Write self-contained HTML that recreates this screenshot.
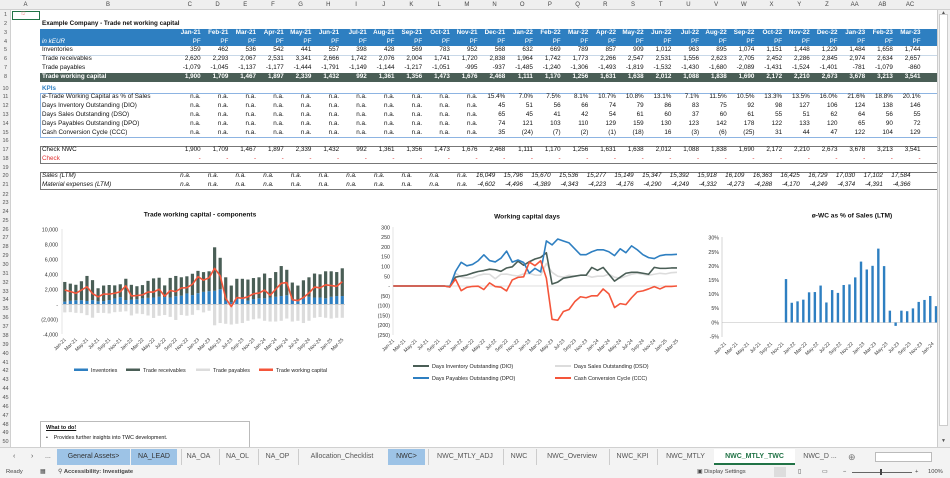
<!DOCTYPE html>
<html><head><meta charset="utf-8">
<style>
*{margin:0;padding:0;box-sizing:border-box}
body{width:950px;height:478px;overflow:hidden;background:#fff;font-family:"Liberation Sans",Arial,sans-serif;position:relative;font-size:6.3px;color:#111}
.a{position:absolute}
.ch{position:absolute;top:0;height:10px;background:#efefef;border-bottom:1px solid #d0d0d0;left:0;width:950px}
.ch span{position:absolute;top:1.5px;font-size:6px;color:#444;text-align:center}
.rh{position:absolute;left:0;width:11px;background:#efefef;border-right:1px solid #d0d0d0;top:10px;height:437px}
.rn{position:absolute;left:0;width:11px;text-align:center;font-size:5.5px;color:#555}
.r{position:absolute;left:176px;display:flex;height:8.8px;line-height:8.8px;white-space:nowrap}
.r span{width:27.7px;flex:none;text-align:right;padding-right:3px}
.lb{position:absolute;left:42px;height:8.8px;line-height:8.8px;white-space:nowrap}
.w{color:#fff;font-weight:bold}
.it{font-style:italic}
.red span{color:#e03030}
</style></head><body>

<div class="ch">
<span style="left:11px;width:29px">A</span><span style="left:40px;width:136px">B</span>
<span style="left:176px;width:27.7px">C</span><span style="left:203.7px;width:27.7px">D</span><span style="left:231.4px;width:27.7px">E</span><span style="left:259.1px;width:27.7px">F</span><span style="left:286.8px;width:27.7px">G</span><span style="left:314.5px;width:27.7px">H</span><span style="left:342.2px;width:27.7px">I</span><span style="left:369.9px;width:27.7px">J</span><span style="left:397.6px;width:27.7px">K</span><span style="left:425.3px;width:27.7px">L</span><span style="left:453px;width:27.7px">M</span><span style="left:480.7px;width:27.7px">N</span><span style="left:508.4px;width:27.7px">O</span><span style="left:536.1px;width:27.7px">P</span><span style="left:563.8px;width:27.7px">Q</span><span style="left:591.5px;width:27.7px">R</span><span style="left:619.2px;width:27.7px">S</span><span style="left:646.9px;width:27.7px">T</span><span style="left:674.6px;width:27.7px">U</span><span style="left:702.3px;width:27.7px">V</span><span style="left:730px;width:27.7px">W</span><span style="left:757.7px;width:27.7px">X</span><span style="left:785.4px;width:27.7px">Y</span><span style="left:813.1px;width:27.7px">Z</span><span style="left:840.8px;width:27.7px">AA</span><span style="left:868.5px;width:27.7px">AB</span><span style="left:896.2px;width:27.7px">AC</span>
</div>
<div class="rh"></div>
<div class="a" style="left:12px;top:10.5px;width:28px;height:9px;border:1.5px solid #217346"></div>
<div class="a" style="left:21px;top:11px;font-size:5px;color:#e88">⛫</div>

<div id="rn"></div>

<!-- bands -->
<div class="a" style="left:40px;top:28.6px;width:897px;height:17.8px;background:#2e7fc1"></div>
<div class="a" style="left:40px;top:73px;width:897px;height:8.8px;background:#4a5e56"></div>
<div class="a" style="left:40px;top:93.2px;width:897px;height:44.4px;border:1px solid #8db4e2;border-right:none"></div>
<div class="a" style="left:40px;top:145.6px;width:897px;height:18px;border:1px solid #777;border-right:none"></div>
<div class="a" style="left:40px;top:172.3px;width:897px;height:18px;border:1px solid #777;border-right:none"></div>
<div class="a" style="left:40px;top:55.3px;width:897px;height:0;border-top:1px solid #c8d8e8"></div>

<div class="lb" style="top:19.6px;font-weight:bold">Example Company - Trade net working capital</div>
<div class="lb w it" style="top:37.6px;font-weight:normal">in kEUR</div>
<div class="lb" style="top:46.3px">Inventories</div>
<div class="lb" style="top:55.3px">Trade receivables</div>
<div class="lb" style="top:63.9px">Trade payables</div>
<div class="lb w" style="top:72.9px">Trade working capital</div>
<div class="lb" style="top:84.9px;color:#2e7fc1;font-weight:bold">KPIs</div>
<div class="lb" style="top:93.3px">ø-Trade Working Capital as % of Sales</div>
<div class="lb" style="top:102.3px">Days Inventory Outstanding (DIO)</div>
<div class="lb" style="top:110.9px">Days Sales Outstanding (DSO)</div>
<div class="lb" style="top:119.9px">Days Payables Outstanding (DPO)</div>
<div class="lb" style="top:128.9px">Cash Conversion Cycle (CCC)</div>
<div class="lb" style="top:145.6px">Check NWC</div>
<div class="lb" style="top:154.6px;color:#e03030">Check</div>
<div class="lb it" style="top:172.3px">Sales (LTM)</div>
<div class="lb it" style="top:181.3px">Material expenses (LTM)</div>

<div class="r w" style="top:28.6px"><span>Jan-21</span><span>Feb-21</span><span>Mar-21</span><span>Apr-21</span><span>May-21</span><span>Jun-21</span><span>Jul-21</span><span>Aug-21</span><span>Sep-21</span><span>Oct-21</span><span>Nov-21</span><span>Dec-21</span><span>Jan-22</span><span>Feb-22</span><span>Mar-22</span><span>Apr-22</span><span>May-22</span><span>Jun-22</span><span>Jul-22</span><span>Aug-22</span><span>Sep-22</span><span>Oct-22</span><span>Nov-22</span><span>Dec-22</span><span>Jan-23</span><span>Feb-23</span><span>Mar-23</span></div>
<div class="r w" style="top:37.6px;font-weight:normal"><span>PF</span><span>PF</span><span>PF</span><span>PF</span><span>PF</span><span>PF</span><span>PF</span><span>PF</span><span>PF</span><span>PF</span><span>PF</span><span>PF</span><span>PF</span><span>PF</span><span>PF</span><span>PF</span><span>PF</span><span>PF</span><span>PF</span><span>PF</span><span>PF</span><span>PF</span><span>PF</span><span>PF</span><span>PF</span><span>PF</span><span>PF</span></div>
<div class="r" style="top:46.3px"><span>359</span><span>462</span><span>536</span><span>542</span><span>441</span><span>557</span><span>398</span><span>428</span><span>569</span><span>783</span><span>952</span><span>568</span><span>632</span><span>669</span><span>789</span><span>857</span><span>909</span><span>1,012</span><span>963</span><span>895</span><span>1,074</span><span>1,151</span><span>1,448</span><span>1,229</span><span>1,484</span><span>1,658</span><span>1,744</span></div>
<div class="r" style="top:55.3px"><span>2,620</span><span>2,293</span><span>2,067</span><span>2,531</span><span>3,341</span><span>2,666</span><span>1,742</span><span>2,076</span><span>2,004</span><span>1,741</span><span>1,720</span><span>2,838</span><span>1,964</span><span>1,742</span><span>1,773</span><span>2,266</span><span>2,547</span><span>2,531</span><span>1,556</span><span>2,623</span><span>2,705</span><span>2,452</span><span>2,286</span><span>2,845</span><span>2,974</span><span>2,634</span><span>2,657</span></div>
<div class="r" style="top:63.9px"><span>-1,079</span><span>-1,045</span><span>-1,137</span><span>-1,177</span><span>-1,444</span><span>-1,791</span><span>-1,149</span><span>-1,144</span><span>-1,217</span><span>-1,051</span><span>-995</span><span>-937</span><span>-1,485</span><span>-1,240</span><span>-1,306</span><span>-1,493</span><span>-1,819</span><span>-1,532</span><span>-1,430</span><span>-1,680</span><span>-2,089</span><span>-1,431</span><span>-1,524</span><span>-1,401</span><span>-781</span><span>-1,079</span><span>-860</span></div>
<div class="r w" style="top:72.9px"><span>1,900</span><span>1,709</span><span>1,467</span><span>1,897</span><span>2,339</span><span>1,432</span><span>992</span><span>1,361</span><span>1,356</span><span>1,473</span><span>1,676</span><span>2,468</span><span>1,111</span><span>1,170</span><span>1,256</span><span>1,631</span><span>1,638</span><span>2,012</span><span>1,088</span><span>1,838</span><span>1,690</span><span>2,172</span><span>2,210</span><span>2,673</span><span>3,678</span><span>3,213</span><span>3,541</span></div>
<div class="r" style="top:93.3px"><span>n.a.</span><span>n.a.</span><span>n.a.</span><span>n.a.</span><span>n.a.</span><span>n.a.</span><span>n.a.</span><span>n.a.</span><span>n.a.</span><span>n.a.</span><span>n.a.</span><span>15.4%</span><span>7.0%</span><span>7.5%</span><span>8.1%</span><span>10.7%</span><span>10.8%</span><span>13.1%</span><span>7.1%</span><span>11.5%</span><span>10.5%</span><span>13.3%</span><span>13.5%</span><span>16.0%</span><span>21.6%</span><span>18.8%</span><span>20.1%</span></div>
<div class="r" style="top:102.3px"><span>n.a.</span><span>n.a.</span><span>n.a.</span><span>n.a.</span><span>n.a.</span><span>n.a.</span><span>n.a.</span><span>n.a.</span><span>n.a.</span><span>n.a.</span><span>n.a.</span><span>45</span><span>51</span><span>56</span><span>66</span><span>74</span><span>79</span><span>86</span><span>83</span><span>75</span><span>92</span><span>98</span><span>127</span><span>106</span><span>124</span><span>138</span><span>146</span></div>
<div class="r" style="top:110.9px"><span>n.a.</span><span>n.a.</span><span>n.a.</span><span>n.a.</span><span>n.a.</span><span>n.a.</span><span>n.a.</span><span>n.a.</span><span>n.a.</span><span>n.a.</span><span>n.a.</span><span>65</span><span>45</span><span>41</span><span>42</span><span>54</span><span>61</span><span>60</span><span>37</span><span>60</span><span>61</span><span>55</span><span>51</span><span>62</span><span>64</span><span>56</span><span>55</span></div>
<div class="r" style="top:119.9px"><span>n.a.</span><span>n.a.</span><span>n.a.</span><span>n.a.</span><span>n.a.</span><span>n.a.</span><span>n.a.</span><span>n.a.</span><span>n.a.</span><span>n.a.</span><span>n.a.</span><span>74</span><span>121</span><span>103</span><span>110</span><span>129</span><span>159</span><span>130</span><span>123</span><span>142</span><span>178</span><span>122</span><span>133</span><span>120</span><span>65</span><span>90</span><span>72</span></div>
<div class="r" style="top:128.9px"><span>n.a.</span><span>n.a.</span><span>n.a.</span><span>n.a.</span><span>n.a.</span><span>n.a.</span><span>n.a.</span><span>n.a.</span><span>n.a.</span><span>n.a.</span><span>n.a.</span><span>35</span><span>(24)</span><span>(7)</span><span>(2)</span><span>(1)</span><span>(18)</span><span>16</span><span>(3)</span><span>(6)</span><span>(25)</span><span>31</span><span>44</span><span>47</span><span>122</span><span>104</span><span>129</span></div>
<div class="r" style="top:145.6px"><span>1,900</span><span>1,709</span><span>1,467</span><span>1,897</span><span>2,339</span><span>1,432</span><span>992</span><span>1,361</span><span>1,356</span><span>1,473</span><span>1,676</span><span>2,468</span><span>1,111</span><span>1,170</span><span>1,256</span><span>1,631</span><span>1,638</span><span>2,012</span><span>1,088</span><span>1,838</span><span>1,690</span><span>2,172</span><span>2,210</span><span>2,673</span><span>3,678</span><span>3,213</span><span>3,541</span></div>
<div class="r red" style="top:154.6px"><span>-</span><span>-</span><span>-</span><span>-</span><span>-</span><span>-</span><span>-</span><span>-</span><span>-</span><span>-</span><span>-</span><span>-</span><span>-</span><span>-</span><span>-</span><span>-</span><span>-</span><span>-</span><span>-</span><span>-</span><span>-</span><span>-</span><span>-</span><span>-</span><span>-</span><span>-</span><span>-</span></div>
<div class="r it" style="top:172.3px;left:166px"><span>n.a.</span><span>n.a.</span><span>n.a.</span><span>n.a.</span><span>n.a.</span><span>n.a.</span><span>n.a.</span><span>n.a.</span><span>n.a.</span><span>n.a.</span><span>n.a.</span><span>16,049</span><span>15,796</span><span>15,670</span><span>15,536</span><span>15,277</span><span>15,149</span><span>15,347</span><span>15,392</span><span>15,918</span><span>16,109</span><span>16,363</span><span>16,425</span><span>16,729</span><span>17,030</span><span>17,102</span><span>17,584</span></div>
<div class="r it" style="top:181.3px;left:166px"><span>n.a.</span><span>n.a.</span><span>n.a.</span><span>n.a.</span><span>n.a.</span><span>n.a.</span><span>n.a.</span><span>n.a.</span><span>n.a.</span><span>n.a.</span><span>n.a.</span><span>-4,602</span><span>-4,496</span><span>-4,389</span><span>-4,343</span><span>-4,223</span><span>-4,176</span><span>-4,290</span><span>-4,249</span><span>-4,332</span><span>-4,273</span><span>-4,288</span><span>-4,170</span><span>-4,249</span><span>-4,374</span><span>-4,391</span><span>-4,366</span></div>

<svg class="a" style="left:0;top:0" width="950" height="478" font-family="Liberation Sans, Arial, sans-serif">
<g id="g1"></g><g id="g2"></g><g id="g3"></g>
<g font-size="6.6" font-weight="bold" text-anchor="middle" fill="#111">
<text x="200" y="216.5">Trade working capital - components</text>
<text x="527" y="218.5">Working capital days</text>
<text x="852" y="217.5">ø-WC as % of Sales (LTM)</text>
</g>
<g font-size="5.3" text-anchor="end" fill="#333">
<text x="58" y="231.3">10,000</text><text x="58" y="246.3">8,000</text><text x="58" y="261.3">6,000</text><text x="58" y="276.3">4,000</text><text x="58" y="291.3">2,000</text><text x="58" y="306.3">-</text><text x="58" y="321.3">(2,000)</text><text x="58" y="336.3">-4,000</text>
<text x="390" y="229.3">300</text><text x="390" y="239.1">250</text><text x="390" y="248.9">200</text><text x="390" y="258.7">150</text><text x="390" y="268.5">100</text><text x="390" y="278.3">50</text><text x="390" y="288">-</text><text x="390" y="297.8">(50)</text><text x="390" y="307.6">(100)</text><text x="390" y="317.4">(150)</text><text x="390" y="327.2">(200)</text><text x="390" y="337">(250)</text>
<text x="719" y="239.7">30%</text><text x="719" y="253.8">25%</text><text x="719" y="267.9">20%</text><text x="719" y="282">15%</text><text x="719" y="296.1">10%</text><text x="719" y="310.2">5%</text><text x="719" y="324.4">0%</text><text x="719" y="338.5">-5%</text>
</g>
<g id="xl" font-size="5" text-anchor="end" fill="#333"></g>
<g font-size="5.4" fill="#222">
<rect x="74" y="368.5" width="14" height="2.5" fill="#2e7fc1"/><text x="91" y="372">Inventories</text>
<rect x="126" y="368.5" width="14" height="2.5" fill="#4a5e56"/><text x="143" y="372">Trade receivables</text>
<rect x="196" y="368.5" width="14" height="2.5" fill="#dcdcdc"/><text x="213" y="372">Trade payables</text>
<rect x="259" y="368.5" width="14" height="2.5" fill="#f4553a"/><text x="276" y="372">Trade working capital</text>
<rect x="413" y="365" width="16" height="2" fill="#4a5e56"/><text x="432" y="368">Days Inventory Outstanding (DIO)</text>
<rect x="555" y="365" width="16" height="2" fill="#dcdcdc"/><text x="574" y="368">Days Sales Outstanding (DSO)</text>
<rect x="413" y="377" width="16" height="2" fill="#2e7fc1"/><text x="432" y="380">Days Payables Outstanding (DPO)</text>
<rect x="555" y="377" width="16" height="2" fill="#f4553a"/><text x="574" y="380">Cash Conversion Cycle (CCC)</text>
</g>
</svg>

<!-- x axis labels static -->
<svg class="a" style="left:0;top:0" width="950" height="478" font-family="Liberation Sans, Arial, sans-serif" font-size="4.9" fill="#333" text-anchor="end">
<g id="lab1"><text>Jan-21</text><text>Mar-21</text><text>May-21</text><text>Jul-21</text><text>Sep-21</text><text>Nov-21</text><text>Jan-22</text><text>Mar-22</text><text>May-22</text><text>Jul-22</text><text>Sep-22</text><text>Nov-22</text><text>Jan-23</text><text>Mar-23</text><text>May-23</text><text>Jul-23</text><text>Sep-23</text><text>Nov-23</text><text>Jan-24</text><text>Mar-24</text><text>May-24</text><text>Jul-24</text><text>Sep-24</text><text>Nov-24</text><text>Jan-25</text><text>Mar-25</text></g>
<g id="lab2"><text>Jan-21</text><text>Mar-21</text><text>May-21</text><text>Jul-21</text><text>Sep-21</text><text>Nov-21</text><text>Jan-22</text><text>Mar-22</text><text>May-22</text><text>Jul-22</text><text>Sep-22</text><text>Nov-22</text><text>Jan-23</text><text>Mar-23</text><text>May-23</text><text>Jul-23</text><text>Sep-23</text><text>Nov-23</text><text>Jan-24</text><text>Mar-24</text><text>May-24</text><text>Jul-24</text><text>Sep-24</text><text>Nov-24</text><text>Jan-25</text><text>Mar-25</text></g>
<g id="lab3"><text>Jan-21</text><text>Mar-21</text><text>May-21</text><text>Jul-21</text><text>Sep-21</text><text>Nov-21</text><text>Jan-22</text><text>Mar-22</text><text>May-22</text><text>Jul-22</text><text>Sep-22</text><text>Nov-22</text><text>Jan-23</text><text>Mar-23</text><text>May-23</text><text>Jul-23</text><text>Sep-23</text><text>Nov-23</text><text>Jan-24</text></g>
</svg>

<!-- text box -->
<div class="a" style="left:40px;top:421px;width:210px;height:27px;border:1px solid #bbb;background:#fff"></div>
<div class="a" style="left:46px;top:425px;font-size:5.5px;text-decoration:underline;font-weight:bold">What to do!</div>
<div class="a" style="left:46px;top:435px;font-size:5.3px">•&nbsp;&nbsp;&nbsp;&nbsp;Provides further insights into TWC development.</div>

<!-- scrollbar -->
<div class="a" style="left:937px;top:10px;width:13px;height:437px;background:#f0f0f0;border-left:1px solid #ccc"></div>
<div class="a" style="left:939px;top:14px;width:9px;height:412px;background:#fff;border:1px solid #ccc"></div>
<div class="a" style="left:941px;top:10px;font-size:5px;color:#555">▲</div>
<div class="a" style="left:941px;top:438px;font-size:5px;color:#555">▼</div>

<!-- tab bar -->
<div class="a" style="left:0;top:447px;width:950px;height:19px;background:#f3f3f3;border-top:1px solid #d0d0d0"></div>
<div class="a" style="left:0;top:449px;height:16px;width:950px;font-size:7px;color:#555;line-height:16px;white-space:nowrap">
<span class="a" style="left:13px">‹</span><span class="a" style="left:31px">›</span><span class="a" style="left:45px">...</span>
<span class="a" style="left:57px;width:73px;background:#9dc3e6;text-align:center;color:#333">General Assets&gt;</span>
<span class="a" style="left:131px;width:46px;background:#9dc3e6;text-align:center;color:#333">NA_LEAD</span>
<span class="a" style="left:181px;width:34px;text-align:center;border-left:1px solid #ccc">NA_OA</span>
<span class="a" style="left:219px;width:36px;text-align:center;border-left:1px solid #ccc">NA_OL</span>
<span class="a" style="left:258px;width:38px;text-align:center;border-left:1px solid #ccc">NA_OP</span>
<span class="a" style="left:298px;width:87px;text-align:center;border-left:1px solid #ccc">Allocation_Checklist</span>
<span class="a" style="left:388px;width:37px;background:#9dc3e6;text-align:center;color:#333">NWC&gt;</span>
<span class="a" style="left:428px;width:73px;text-align:center;border-left:1px solid #ccc">NWC_MTLY_ADJ</span>
<span class="a" style="left:503px;width:31px;text-align:center;border-left:1px solid #ccc">NWC</span>
<span class="a" style="left:536px;width:71px;text-align:center;border-left:1px solid #ccc">NWC_Overview</span>
<span class="a" style="left:609px;width:46px;text-align:center;border-left:1px solid #ccc">NWC_KPI</span>
<span class="a" style="left:657px;width:56px;text-align:center;border-left:1px solid #ccc">NWC_MTLY</span>
<span class="a" style="left:714px;width:81px;text-align:center;background:#fff;color:#217346;font-weight:bold;border-bottom:2px solid #217346;height:16px">NWC_MTLY_TWC</span>
<span class="a" style="left:797px;width:46px;text-align:center">NWC_D ...</span>
<span class="a" style="left:848px;font-size:9px;color:#777">⊕</span>
<span class="a" style="left:875px;top:3px;width:57px;height:10px;background:#fff;border:1px solid #bbb"></span>
</div>
<!-- status bar -->
<div class="a" style="left:0;top:466px;width:950px;height:12px;background:#f3f3f3;font-size:5.8px;color:#444;line-height:12px;white-space:nowrap">
<span class="a" style="left:6px">Ready</span><span class="a" style="left:40px">▦</span><span class="a" style="left:58px">⚲ <b>Accessibility: Investigate</b></span>
<span class="a" style="left:697px">▣ Display Settings</span><span class="a" style="left:774px;width:12px;height:10px;top:1px;background:#ddd"></span>
<span class="a" style="left:798px">▯</span><span class="a" style="left:822px">▭</span>
<span class="a" style="left:843px">−</span><span class="a" style="left:852px;top:6px;width:60px;height:1px;background:#666"></span><span class="a" style="left:880px;top:3px;width:2px;height:6px;background:#444"></span><span class="a" style="left:915px">+</span><span class="a" style="left:928px">100%</span>
</div>

<div class="a" style="left:0;top:10px" id="rnw">
</div>

<script>
(function(){
var NS="http://www.w3.org/2000/svg";
function el(p,t,a){var e=document.createElementNS(NS,t);for(var k in a)e.setAttribute(k,a[k]);p.appendChild(e);return e;}
// row number lines (no text created here; row numbers below are static)
// chart 1
var inv=[359,462,536,542,441,557,398,428,569,783,952,568,632,669,789,857,909,1012,963,895,1074,1151,1448,1229,1484,1658,1744,1800,2000,500,300,700,700,500,700,800,800,900,1000,1100,1200,700,400,800,1000,900,900,800,1000,1100,1100];
var rec=[2620,2293,2067,2531,3341,2666,1742,2076,2004,1741,1720,2838,1964,1742,1773,2266,2547,2531,1556,2623,2705,2452,2286,2845,2974,2634,2657];
var tot=[7600,6200,3600,2500,3400,3400,3300,3500,3600,4100,3500,4300,5100,4600,2900,2500,3200,3600,4100,4000,4400,4400,4300,4800];
for(var i=0;i<tot.length;i++)rec.push(tot[i]-inv[27+i]);
var pay=[-1079,-1045,-1137,-1177,-1444,-1791,-1149,-1144,-1217,-1051,-995,-937,-1485,-1240,-1306,-1493,-1819,-1532,-1430,-1680,-2089,-1431,-1524,-1401,-781,-1079,-860,-2800,-2500,-2600,-2700,-2600,-2500,-2200,-2000,-1900,-2200,-2300,-2300,-2200,-1900,-2300,-2200,-2500,-2200,-1800,-1700,-1800,-1900,-1800,-1800];
var twc=[1900,1709,1467,1897,2339,1432,992,1361,1356,1473,1676,2468,1111,1170,1256,1631,1638,2012,1088,1838,1690,2172,2210,2673,3678,3213,3541,4800,3800,800,-300,900,800,1000,1400,1500,1900,1200,2000,2800,2900,600,500,900,1500,2300,2200,2600,2500,2400,3000];
var g1=document.getElementById("g1");
function X1(i){return 62+5.55*(i+0.5)} function Y1(v){return 304.3-v*0.0075}
for(i=0;i<51;i++){var x=X1(i)-1.6;
el(g1,"rect",{x:x,y:Y1(inv[i]),width:3.2,height:inv[i]*0.0075,fill:"#2e7fc1"});
el(g1,"rect",{x:x,y:Y1(inv[i]+rec[i]),width:3.2,height:rec[i]*0.0075,fill:"#4a5e56"});
el(g1,"rect",{x:x,y:304.3,width:3.2,height:-pay[i]*0.0075,fill:"#dcdcdc"});}
el(g1,"line",{x1:62,x2:345,y1:304.3,y2:304.3,stroke:"#bbb","stroke-width":0.6});
el(g1,"polyline",{points:twc.map(function(v,i){return X1(i)+","+Y1(v)}).join(" "),fill:"none",stroke:"#f4553a","stroke-width":1.6,"stroke-linejoin":"round"});
// chart 2
var pre=[];for(i=0;i<11;i++)pre.push(0);
var dio=pre.concat([45,51,56,66,74,79,86,83,75,92,98,127,106,124,138,146,170,10,20,40,45,50,55,55,95,80,95,60,25,45,65,70,70,65,60,95,90,90,92,92]);
var dso=pre.concat([65,45,41,42,54,61,60,37,60,61,55,51,62,64,56,55,115,70,50,45,55,50,55,55,45,50,50,60,45,40,50,60,65,60,55,60,65,62,68,70]);
var dpo=pre.concat([74,121,103,110,129,159,130,123,142,178,122,133,120,65,90,72,230,210,240,230,220,190,160,160,175,185,185,175,155,190,170,205,185,160,145,140,155,160,160,162]);
var ccc=pre.concat([35,-24,-7,-2,-1,-18,16,-3,-6,-25,31,44,47,122,104,129,40,-170,-175,-130,-120,-80,-55,-60,-50,-50,-15,-40,-110,-90,-95,-60,-30,-25,-15,-3,-15,-2,-2,0]);
dio[10]=-3;ccc[10]=-5;dpo[10]=-5;
var g2=document.getElementById("g2");
function X2(i){return 393+5.68*i} function Y2(v){return 286-v*0.1958}
el(g2,"line",{x1:393,x2:677,y1:286,y2:286,stroke:"#bbb","stroke-width":0.6});
[[dso,"#dcdcdc"],[dio,"#4a5e56"],[dpo,"#2e7fc1"],[ccc,"#f4553a"]].forEach(function(s){
el(g2,"polyline",{points:s[0].slice(0,51).map(function(v,i){return X2(i)+","+Y2(v)}).join(" "),fill:"none",stroke:s[1],"stroke-width":1.6,"stroke-linejoin":"round"});});
// chart 3
var pc=[15.4,7.0,7.5,8.1,10.7,10.8,13.1,7.1,11.5,10.5,13.3,13.5,16.0,21.6,18.8,20.1,26.2,20,4.2,-1.2,4.2,4.0,5.0,7.3,8.0,9.4,5.8];
var g3=document.getElementById("g3");
el(g3,"line",{x1:722,x2:937,y1:322.5,y2:322.5,stroke:"#bbb","stroke-width":0.6});
el(g3,"line",{x1:722,x2:722,y1:237,y2:337,stroke:"#bbb","stroke-width":0.6});
el(g1,"line",{x1:62,x2:62,y1:229,y2:334,stroke:"#ccc","stroke-width":0.5});
el(g2,"line",{x1:393,x2:393,y1:227,y2:335,stroke:"#ccc","stroke-width":0.5});
for(i=0;i<pc.length;i++){var x=786+5.77*i,v=pc[i]*2.82;
el(g3,"rect",{x:x-1.2,y:v>0?322.5-v:322.5,width:2.4,height:Math.abs(v),fill:"#2e7fc1"});}
// position x labels
function pos(id,f,y){var t=document.getElementById(id).children;for(var k=0;k<t.length;k++)t[k].setAttribute("transform","translate("+f(k*2)+","+y+") rotate(-45)");}
pos("lab1",function(i){return X1(i)+1.5},340);
pos("lab2",function(i){return X2(i)+1.5},341);
pos("lab3",function(i){return 722+5.77*(i+0.5)+1.5},344);
})();
</script>

<!-- row numbers -->
<div class="a" style="left:0;top:0;width:11px;font-size:5.5px;color:#555;text-align:center;line-height:8.8px">
<div class="a" style="top:10.6px;width:11px">1</div><div class="a" style="top:19.6px;width:11px">2</div><div class="a" style="top:28.6px;width:11px">3</div><div class="a" style="top:37.6px;width:11px">4</div><div class="a" style="top:46.3px;width:11px">5</div><div class="a" style="top:55.3px;width:11px">6</div><div class="a" style="top:63.9px;width:11px">7</div><div class="a" style="top:72.9px;width:11px">8</div><div class="a" style="top:84.9px;width:11px">10</div><div class="a" style="top:93.3px;width:11px">11</div><div class="a" style="top:102.3px;width:11px">12</div><div class="a" style="top:110.9px;width:11px">13</div><div class="a" style="top:119.9px;width:11px">14</div><div class="a" style="top:128.9px;width:11px">15</div><div class="a" style="top:136.6px;width:11px">16</div><div class="a" style="top:145.6px;width:11px">17</div><div class="a" style="top:154.6px;width:11px">18</div><div class="a" style="top:163.9px;width:11px">19</div><div class="a" style="top:172.3px;width:11px">20</div><div class="a" style="top:181.3px;width:11px">21</div><div class="a" style="top:190.6px;width:11px">22</div>
<div class="a" style="top:198.9px;width:11px">23</div><div class="a" style="top:207.8px;width:11px">24</div><div class="a" style="top:216.6px;width:11px">25</div><div class="a" style="top:225.5px;width:11px">26</div><div class="a" style="top:234.4px;width:11px">27</div><div class="a" style="top:243.2px;width:11px">28</div><div class="a" style="top:252.1px;width:11px">29</div><div class="a" style="top:261px;width:11px">30</div><div class="a" style="top:269.8px;width:11px">31</div><div class="a" style="top:278.7px;width:11px">32</div><div class="a" style="top:287.6px;width:11px">33</div><div class="a" style="top:296.4px;width:11px">34</div><div class="a" style="top:305.3px;width:11px">35</div><div class="a" style="top:314.2px;width:11px">36</div><div class="a" style="top:323px;width:11px">37</div><div class="a" style="top:331.9px;width:11px">38</div><div class="a" style="top:340.8px;width:11px">39</div><div class="a" style="top:349.6px;width:11px">40</div><div class="a" style="top:358.5px;width:11px">41</div><div class="a" style="top:367.4px;width:11px">42</div><div class="a" style="top:376.2px;width:11px">43</div><div class="a" style="top:385.1px;width:11px">44</div><div class="a" style="top:394px;width:11px">45</div><div class="a" style="top:402.8px;width:11px">46</div><div class="a" style="top:411.7px;width:11px">47</div><div class="a" style="top:420.6px;width:11px">48</div><div class="a" style="top:429.4px;width:11px">49</div><div class="a" style="top:438.3px;width:11px">50</div>
</div>
</body></html>
